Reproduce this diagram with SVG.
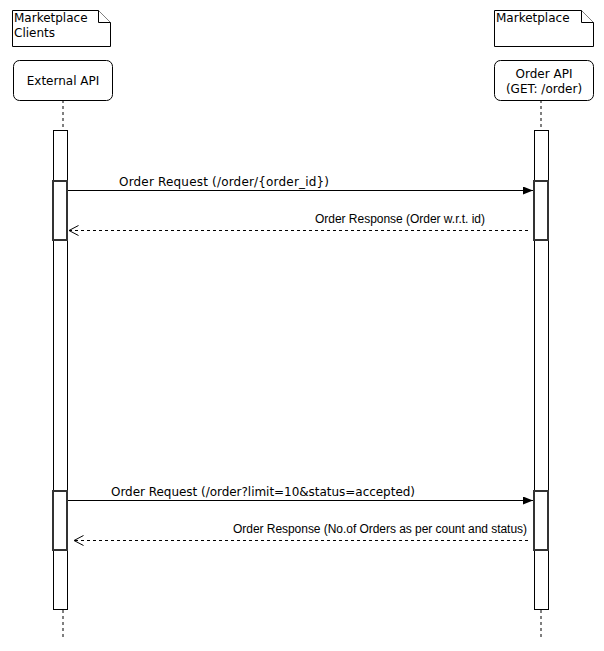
<svg xmlns="http://www.w3.org/2000/svg" width="604" height="651" viewBox="0 0 604 651">
<defs>
<style>
.note{fill:#fff;stroke:#000;stroke-width:1}
.head{fill:#fff;stroke:#000;stroke-width:1}
.t{font-family:"DejaVu Sans",Verdana,sans-serif;font-size:12px;fill:#000}
.r{font-family:"Liberation Sans",Arial,sans-serif;font-size:12px;fill:#000}
.life{stroke:#000;stroke-width:1;stroke-dasharray:3,3;fill:none}
.bar{fill:#fff;stroke:#000;stroke-width:1}
.act{fill:#fff;stroke:#333;stroke-width:2}
.msg{stroke:#000;stroke-width:1;fill:none}
.ret{stroke:#000;stroke-width:1;fill:none;stroke-dasharray:3,3}
</style>
<marker id="filled" markerWidth="10" markerHeight="8" refX="10" refY="4" orient="auto" markerUnits="userSpaceOnUse">
<path d="M0,0 L10,4 L0,8 Z" fill="#000"/>
</marker>
<marker id="open" markerWidth="12" markerHeight="12" refX="10" refY="5.5" orient="auto" markerUnits="userSpaceOnUse">
<path d="M0.5,0.5 L10,5.5 L0.5,10.5" fill="none" stroke="#000" stroke-width="1"/>
</marker>
</defs>
<rect width="604" height="651" fill="#fff"/>
<g id="note-clients">
<path class="note" d="M12.5,10.5 H98.5 L110.5,22.5 V46.5 H12.5 Z"/>
<path class="note" d="M98.5,10.5 V22.5 H110.5" fill="none"/>
<text class="t" x="14" y="22">Marketplace</text>
<text class="t" x="14" y="37">Clients</text>
</g>
<g id="note-marketplace">
<path class="note" d="M494.5,10.5 H581.5 L593.5,22.5 V46.5 H494.5 Z"/>
<path class="note" d="M581.5,10.5 V22.5 H593.5" fill="none"/>
<text class="t" x="496" y="22">Marketplace</text>
</g>
<g id="external-api">
<line class="life" x1="63" y1="100" x2="63" y2="640"/>
<rect class="head" x="13.5" y="60.5" width="99" height="40" rx="6"/>
<text class="t" x="63" y="85" text-anchor="middle">External API</text>
<rect class="bar" x="53.5" y="130.5" width="14" height="479"/>
<rect class="act" x="53" y="181" width="14" height="59"/>
<rect class="act" x="53" y="491" width="14" height="59"/>
</g>
<g id="order-api">
<line class="life" x1="541" y1="100" x2="541" y2="640"/>
<rect class="head" x="494.5" y="60.5" width="99" height="40" rx="6"/>
<text class="t" x="544" y="78" text-anchor="middle">Order API</text>
<text class="t" x="544" y="93" text-anchor="middle">(GET: /order)</text>
<rect class="bar" x="534.5" y="130.5" width="14" height="479"/>
<rect class="act" x="534" y="181" width="14" height="59"/>
<rect class="act" x="534" y="491" width="14" height="59"/>
</g>
<g id="connectors">
<line class="msg" x1="68" y1="190.5" x2="533" y2="190.5" marker-end="url(#filled)"/>
<text class="t" x="119" y="186" textLength="210">Order Request (/order/{order_id})</text>
<line class="ret" x1="528" y1="230.5" x2="69" y2="230.5" marker-end="url(#open)"/>
<text class="r" x="315" y="223" textLength="170">Order Response (Order w.r.t. id)</text>
<line class="msg" x1="68" y1="500.5" x2="533" y2="500.5" marker-end="url(#filled)"/>
<text class="t" x="111" y="496" textLength="304">Order Request (/order?limit=10&amp;status=accepted)</text>
<line class="ret" x1="528" y1="540.5" x2="74" y2="540.5" marker-end="url(#open)"/>
<text class="r" x="233" y="533" textLength="294">Order Response (No.of Orders as per count and status)</text>
</g>
</svg>
